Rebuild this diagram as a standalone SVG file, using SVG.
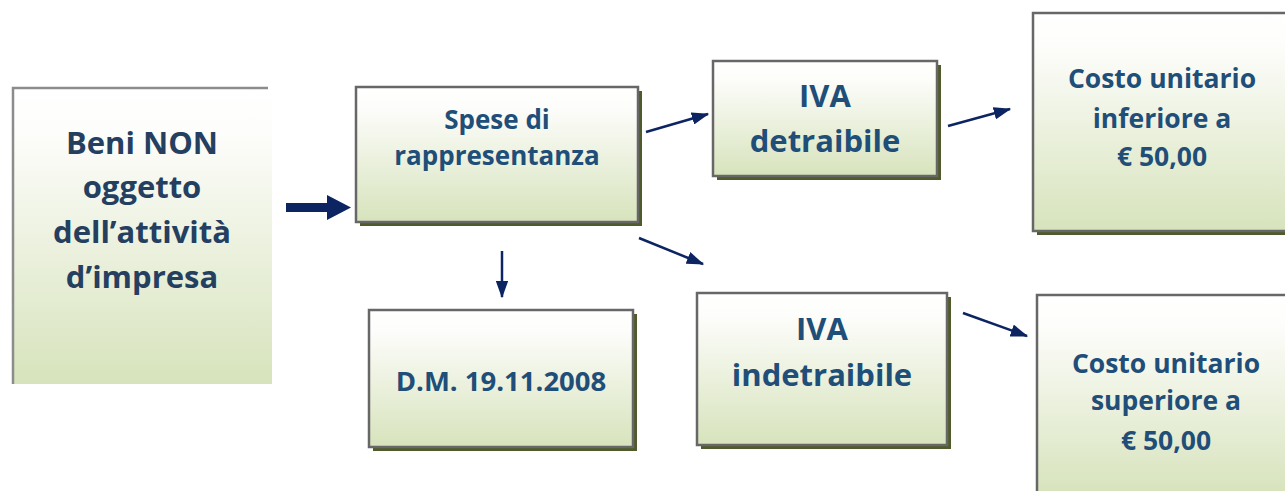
<svg xmlns="http://www.w3.org/2000/svg" width="1285" height="491" viewBox="0 0 1285 491">
<defs>
<linearGradient id="g" x1="0" y1="0" x2="0" y2="1">
<stop offset="0" stop-color="#ffffff"/>
<stop offset="0.15" stop-color="#fdfdfb"/>
<stop offset="1" stop-color="#d7e3bc"/>
</linearGradient>
<marker id="ah" viewBox="0 0 14 10" refX="13" refY="5" markerWidth="7" markerHeight="5" orient="auto" markerUnits="strokeWidth">
<path d="M0,0 L14,5 L0,10 z" fill="#0c2461"/>
</marker>
</defs>
<style>
.box{fill:url(#g);stroke:#676767;stroke-width:2.5}
.sh{fill:#4f5b2a}
.t{font-family:"Open Sans","Noto Sans",sans-serif;font-weight:bold;fill:#1f4e79;text-anchor:middle}
.c{stroke:#0c2461;stroke-width:2.5;fill:none;marker-end:url(#ah)}
</style>
<rect width="1285" height="491" fill="#ffffff"/>
<g id="n1">
<rect x="13" y="88" width="259" height="296" fill="url(#g)"/>
<path d="M13,384 L13,88 L268,88" fill="none" stroke="#8c8c8c" stroke-width="2.5"/>
<text class="t" style="fill:#243f60" font-size="31" x="142" y="154">Beni NON</text>
<text class="t" style="fill:#243f60" font-size="31" x="142" y="198">oggetto</text>
<text class="t" style="fill:#243f60" font-size="31" x="142" y="243">dell’attività</text>
<text class="t" style="fill:#243f60" font-size="31" x="142" y="288">d’impresa</text>
</g>
<g id="n2">
<rect class="sh" x="360" y="91" width="282" height="135"/>
<rect class="box" x="356" y="87" width="282" height="135"/>
<text class="t" font-size="26" x="497" y="129">Spese di</text>
<text class="t" font-size="26" x="497" y="165">rappresentanza</text>
</g>
<g id="n3">
<rect class="sh" x="717" y="65" width="224" height="115"/>
<rect class="box" x="713" y="61" width="224" height="115"/>
<text class="t" font-size="31" x="825" y="107">IVA</text>
<text class="t" font-size="31" x="825" y="152">detraibile</text>
</g>
<g id="n4">
<rect class="sh" x="1037" y="17" width="252" height="218"/>
<rect class="box" x="1033" y="13" width="256" height="218"/>
<text class="t" font-size="26.5" x="1162" y="88">Costo unitario</text>
<text class="t" font-size="26.5" x="1162" y="128">inferiore a</text>
<text class="t" font-size="26.5" x="1162" y="166">€ 50,00</text>
</g>
<g id="n5">
<rect class="sh" x="373" y="314" width="264" height="137"/>
<rect class="box" x="369" y="310" width="264" height="137"/>
<text class="t" font-size="27.5" x="501" y="391">D.M. 19.11.2008</text>
</g>
<g id="n6">
<rect class="sh" x="701" y="297" width="250" height="152"/>
<rect class="box" x="697" y="293" width="250" height="152"/>
<text class="t" font-size="31" x="822" y="340">IVA</text>
<text class="t" font-size="31" x="822" y="386">indetraibile</text>
</g>
<g id="n7">
<rect class="sh" x="1041" y="299" width="248" height="200"/>
<rect class="box" x="1037" y="295" width="252" height="200"/>
<text class="t" font-size="26.5" x="1166" y="373">Costo unitario</text>
<text class="t" font-size="26.5" x="1166" y="410">superiore a</text>
<text class="t" font-size="26.5" x="1166" y="450">€ 50,00</text>
</g>
<g id="connectors">
<path d="M286,203 L327,203 L327,195 L351,207.5 L327,220 L327,212 L286,212 z" fill="#0c2461"/>
<line class="c" x1="646" y1="132" x2="708" y2="114"/>
<line class="c" x1="948" y1="126" x2="1010" y2="109"/>
<line class="c" x1="502" y1="251" x2="502" y2="297"/>
<line class="c" x1="639" y1="238" x2="703" y2="264"/>
<line class="c" x1="963" y1="313" x2="1027" y2="336"/>
</g>
</svg>
